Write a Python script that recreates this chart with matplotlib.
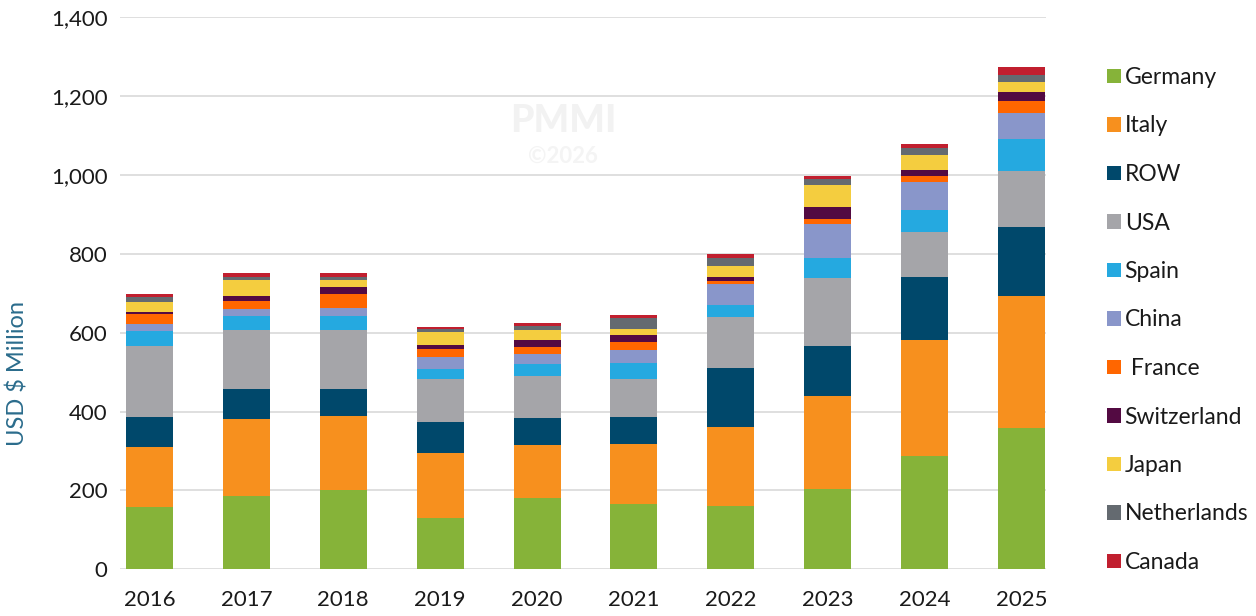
import numpy as np
import matplotlib
matplotlib.use("Agg")
from matplotlib import pyplot as plt
from matplotlib.patches import Patch
from matplotlib.ticker import FuncFormatter

plt.rcParams['font.family'] = ['Lato', 'DejaVu Sans']

# data (USD million, stacked per year)
years = ['2016', '2017', '2018', '2019', '2020', '2021', '2022', '2023', '2024', '2025']
countries = ['Germany', 'Italy', 'ROW', 'USA', 'Spain', 'China', ' France',
             'Switzerland', 'Japan', 'Netherlands', 'Canada']

germany = [158, 186, 202, 131, 182, 166, 161, 204, 287, 358]
italy = [152, 195, 187, 164, 133, 152, 200, 236, 295, 335]
row = [76, 76, 68, 79, 69, 68, 150, 127, 160, 175]
usa = [180, 150, 150, 109, 106, 97, 129, 172, 112, 142]
spain = [38, 36, 36, 25, 31, 40, 31, 51, 56, 81]
china = [19, 18, 20, 29, 25, 34, 51, 86, 73, 65]
france = [25, 20, 35, 22, 18, 19, 10, 13, 15, 30]
switzerland = [5, 13, 18, 10, 18, 18, 8, 30, 13, 25]
japan = [25, 40, 18, 33, 25, 15, 30, 56, 38, 23]
netherlands = [11, 8, 8, 8, 10, 29, 18, 15, 18, 20]
canada = [10, 10, 10, 5, 8, 7, 10, 8, 10, 18]

colors = ['#86b339', '#f7901e', '#00486b', '#a5a5a9', '#25a9e0', '#8996ca',
          '#ff6600', '#530a42', '#f4cd3f', '#646a70', '#c11f2f']

series = [germany, italy, row, usa, spain, china, france,
          switzerland, japan, netherlands, canada]

fig = plt.figure(figsize=(12.56, 6.16), dpi=100)
ax = fig.add_axes([120 / 1256, 1 - 569.3 / 616, 926 / 1256, 552.3 / 616])

x = np.arange(len(years))
bottom = np.zeros(len(years))
for vals, c in zip(series, colors):
    vals = np.array(vals, dtype=float)
    ax.bar(x, vals, width=0.485, bottom=bottom, color=c, zorder=3)
    bottom += vals

ax.set_ylim(0, 1400)
ax.set_xlim(-0.304, 9.252)
ax.set_yticks(np.arange(0, 1401, 200))
ax.yaxis.set_major_formatter(FuncFormatter(lambda v, p: f'{int(v):,}'))
ax.set_xticks(x)
ax.set_xticklabels(years)
ax.grid(axis='y', color='#d9d9d9', linewidth=1.2, zorder=0)
for s in ax.spines.values():
    s.set_visible(False)
ax.tick_params(axis='both', length=0, labelsize=16, colors='#1a1a1a')
ax.tick_params(axis='y', pad=9)
ax.tick_params(axis='x', pad=15)

ax.set_ylabel('USD $ Million', fontsize=17, color='#2b6c8c', va='center')
ax.yaxis.set_label_coords(-0.111, 0.355)

# faint watermark
fig.text(563 / 1256, 1 - 121 / 616, 'PMMI', fontsize=27, fontweight=900,
         color='#f2f2f2', ha='center', va='center')
fig.text(563 / 1256, 1 - 156 / 616, '©2026', fontsize=16, fontweight='bold',
         color='#f4f4f4', ha='center', va='center')

handles = [Patch(facecolor=c, edgecolor='none') for c in colors]
leg = fig.legend(handles, countries, loc='upper left',
                 bbox_to_anchor=(1107 / 1256, 1 - 67 / 616),
                 frameon=False, fontsize=16.5, handlelength=0.62,
                 handleheight=0.62, handletextpad=0.15, labelspacing=1.2,
                 borderaxespad=0, borderpad=0)
for t in leg.get_texts():
    t.set_color('#1a1a1a')

fig.savefig('out.png', dpi=100)
